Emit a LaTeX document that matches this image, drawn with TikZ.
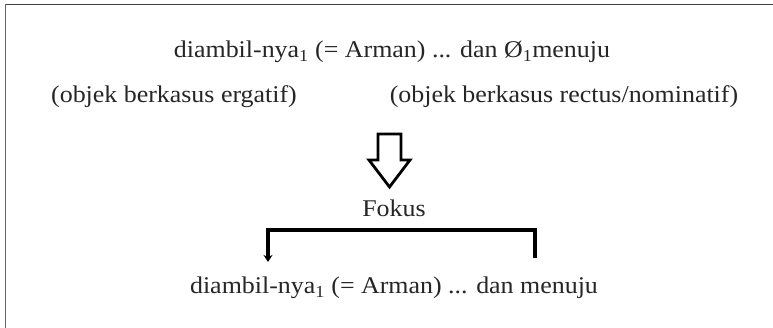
\documentclass[tikz,border=0pt]{standalone}
\usepackage{fontspec}
\setmainfont[FakeStretch=1.08]{Liberation Serif}
\usetikzlibrary{arrows.meta}
\begin{document}
\begin{tikzpicture}[x=1pt,y=-1pt,
  txt/.style={inner sep=0pt,anchor=center,font=\fontsize{24}{28}\selectfont,text=black!85},
  frame/.style={line width=1.6pt,draw=black!60},
  blockarrow/.style={line width=2.8pt,line join=miter,draw=black},
  bracketline/.style={line width=4pt,draw=black,line join=miter}]
\useasboundingbox (0,0) rectangle (773,328);
\fill[white] (0,0) rectangle (773,328);
% frame
\coordinate (ftl) at (5.5,4.5);
\coordinate (ftr) at (773,4.5);
\coordinate (fbl) at (5.5,328);
\draw[frame,draw=black!75] (ftl) -- (ftr);
\draw[frame] (ftl) -- (fbl);
% texts
\node[txt] (l1) at (392,52) {diambil-nya\textsubscript{1} (= Arman) ... dan Ø\textsubscript{1}menuju};
\node[txt] (l2a) at (174,97) {(objek berkasus ergatif)};
\node[txt] (l2b) at (564,97) {(objek berkasus rectus/nominatif)};
\node[txt] (fokus) at (394,208) {Fokus};
\node[txt] (l3) at (394,288) {diambil-nya\textsubscript{1} (= Arman) ... dan menuju};
% hollow block arrow
\draw[blockarrow] (378,134) -- (401,134) -- (401,160) -- (410,160) -- (389.5,187)
  -- (369,160) -- (378,160) -- cycle;
% bracket
\coordinate (br) at (535,258);
\coordinate (bl) at (268,262);
\draw[bracketline,-{Stealth[length=7pt,width=9pt]}] (br) -- (535,230) -| (bl);
\end{tikzpicture}
\end{document}
